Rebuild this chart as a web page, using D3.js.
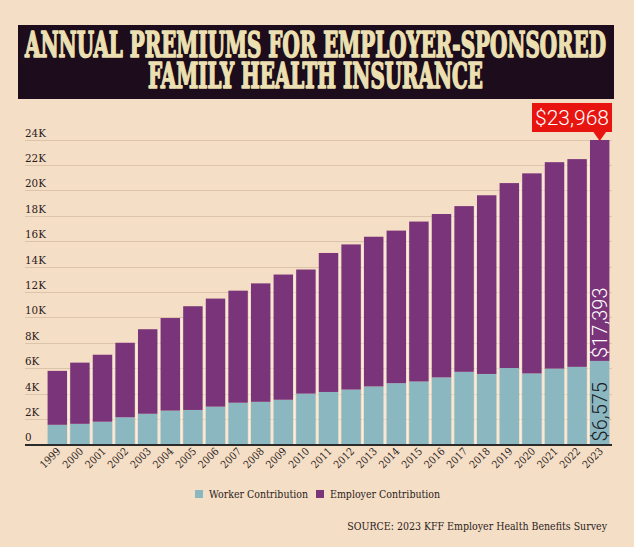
<!DOCTYPE html>
<html><head><meta charset="utf-8">
<script src="https://cdn.jsdelivr.net/npm/d3@7"></script>
<style>
html,body{margin:0;padding:0;background:#f5dec6;}
svg{display:block;}
</style></head>
<body>
<script>
const years = ["1999","2000","2001","2002","2003","2004","2005","2006","2007","2008","2009","2010","2011","2012","2013","2014","2015","2016","2017","2018","2019","2020","2021","2022","2023"];
const worker = [1543,1619,1787,2137,2412,2661,2713,2973,3281,3354,3515,3997,4129,4316,4565,4823,4955,5277,5714,5547,6015,5588,5969,6106,6575];
const employer = [4247,4819,5274,5866,6657,7289,8167,8508,8824,9325,9860,9773,10944,11429,11786,12011,12591,12865,13049,14069,14561,15754,16253,16357,17393];
const yTicks = [0,2000,4000,6000,8000,10000,12000,14000,16000,18000,20000,22000,24000];
const yTickLabels = ["0","2K","4K","6K","8K","10K","12K","14K","16K","18K","20K","22K","24K"];
const seriesNames = ["Worker Contribution","Employer Contribution"];
const titleLines = ["ANNUAL PREMIUMS FOR EMPLOYER-SPONSORED","FAMILY HEALTH INSURANCE"];
const totalLabel = "$23,968";
const employerLabel = "$17,393";
const workerLabel = "$6,575";
const sourceText = "SOURCE: 2023 KFF Employer Health Benefits Survey";

const W=634,H=547;
const C={bg:"#f5dec6",purple:"#7a3479",teal:"#8bb7c0",grid:"#dcc4ab",text:"#2a1c1c",red:"#e8140f"};
const slab="'DejaVu Serif Condensed','DejaVu Serif',serif";

const svg=d3.select("body").append("svg").attr("width",W).attr("height",H);
svg.append("rect").attr("width",W).attr("height",H).attr("fill",C.bg);

// Title
svg.append("rect").attr("x",18).attr("y",25).attr("width",596).attr("height",74).attr("fill","#1d0c1b");
const title=svg.append("text")
  .attr("font-family",slab).attr("font-weight","bold").attr("font-size",35)
  .attr("fill","#ece0b2").attr("stroke","#ece0b2").attr("stroke-width",1.6).attr("stroke-linejoin","round");
const tl=[{t:titleLines[0],x:25,y:57,len:581},{t:titleLines[1],x:148,y:88,len:335}];
tl.forEach(d=>{
  title.append("tspan").attr("x",d.x).attr("y",d.y).text(d.t)
    .attr("textLength",d.len).attr("lengthAdjust","spacingAndGlyphs");
});

const x=d3.scaleBand().domain(years).range([46,611]).paddingInner(0.14).paddingOuter(0.07);
const y=d3.scaleLinear().domain([0,24000]).range([444.4,139.6]);

// gridlines
const g=svg.append("g");
g.selectAll("line.grid").data(yTicks.slice(1)).join("line").attr("class","grid")
  .attr("x1",25).attr("x2",612).attr("y1",d=>Math.round(y(d))+0.5).attr("y2",d=>Math.round(y(d))+0.5)
  .attr("stroke",C.grid).attr("stroke-width",1);
g.selectAll("text.yl").data(yTicks).join("text").attr("class","yl")
  .attr("x",25).attr("y",d=>y(d)-3).text((d,i)=>yTickLabels[i])
  .attr("font-family",slab).attr("font-size",11.5).attr("fill",C.text);

// bars
const stack=d3.stack().keys(["worker","employer"])(years.map((yr,i)=>({year:yr,worker:worker[i],employer:employer[i]})));
const colors=[C.teal,C.purple];
stack.forEach((s,si)=>{
  svg.append("g").selectAll("rect").data(s).join("rect")
    .attr("x",d=>x(d.data.year)).attr("width",x.bandwidth())
    .attr("y",d=>y(d[1])).attr("height",d=>y(d[0])-y(d[1]))
    .attr("fill",colors[si]);
});
// light separators between bars
svg.append("g").selectAll("rect").data(years).join("rect")
  .attr("x",d=>x(d)+x.bandwidth()+x.step()*x.paddingInner()/2-0.6).attr("width",1.2)
  .attr("y",(d,i)=>y(worker[i]+employer[i])).attr("height",(d,i)=>y(0)-y(worker[i]+employer[i]))
  .attr("fill","#fbf0e2").attr("opacity",(d,i)=>i<years.length-1?0.9:0);

// axis baseline
svg.append("line").attr("x1",25).attr("x2",612).attr("y1",445).attr("y2",445).attr("stroke","#2b2b2b").attr("stroke-width",2);

// x labels
svg.append("g").selectAll("text").data(years).join("text")
  .attr("transform",d=>`translate(${x(d)+x.bandwidth()/2+4},${452}) rotate(-45)`)
  .attr("text-anchor","end").text(d=>d)
  .attr("font-family",slab).attr("font-size",10.5).attr("fill",C.text);

// annotations
const last=years.length-1;
const cx=x(years[last])+x.bandwidth()/2;
const ty=y(worker[last]+employer[last]);
svg.append("rect").attr("x",532).attr("y",103).attr("width",80).attr("height",29).attr("fill",C.red);
svg.append("path").attr("d",`M${cx-7},131 L${cx+7},131 L${cx},${ty+1} Z`).attr("fill",C.red);
svg.append("text").attr("x",572).attr("y",125).attr("text-anchor","middle").text(totalLabel)
  .attr("font-family","Roboto,'Noto Sans',sans-serif").attr("font-weight",300).attr("font-size",21).attr("fill","#fff");
svg.append("text").attr("transform",`translate(${cx+7},${y(worker[last])-3}) rotate(-90)`)
  .text(employerLabel).attr("font-family","Roboto,'Noto Sans',sans-serif").attr("font-weight",300).attr("font-size",20).attr("fill","#fff");
svg.append("text").attr("transform",`translate(${cx+7},${y(0)-3}) rotate(-90)`)
  .text(workerLabel).attr("font-family","Roboto,'Noto Sans',sans-serif").attr("font-weight",300).attr("font-size",20).attr("fill","#1a1a24");

// legend
const lg=svg.append("g");
const lx=[195,316];
seriesNames.forEach((n,i)=>{
  lg.append("rect").attr("x",lx[i]).attr("y",490).attr("width",8).attr("height",8).attr("fill",colors[i]);
  lg.append("text").attr("x",lx[i]+14).attr("y",497.5).text(n).attr("font-family",slab).attr("font-size",10.5).attr("fill",C.text);
});
svg.append("text").attr("x",607).attr("y",530).attr("text-anchor","end").text(sourceText)
  .attr("font-family",slab).attr("font-size",10.5).attr("fill",C.text);
</script>
</body></html>
